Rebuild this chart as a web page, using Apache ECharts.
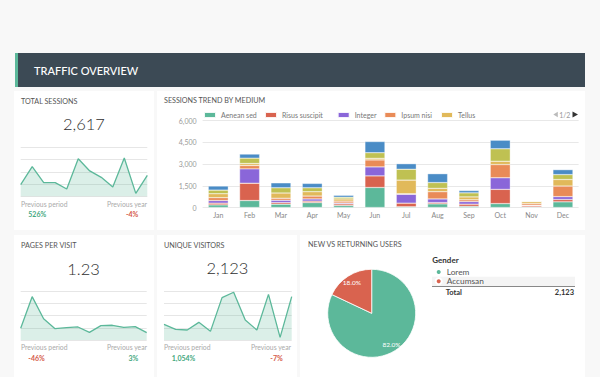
<!DOCTYPE html>
<html>
<head>
<meta charset="utf-8">
<script src="https://cdn.jsdelivr.net/npm/echarts@6/dist/echarts.min.js"></script>
<style>
html, body { margin: 0; padding: 0; background: #f8f8f8; }
#main { width: 600px; height: 377px; }
</style>
</head>
<body>
<div id="main"></div>
<script>
// data
var months = ['Jan', 'Feb', 'Mar', 'Apr', 'May', 'Jun', 'Jul', 'Aug', 'Sep', 'Oct', 'Nov', 'Dec'];
var mediumNames = ['Aenean sed', 'Risus suscipit', 'Integer', 'Ipsum nisi', 'Tellus', 'Vestibulum ante', 'Donec pretium'];
var aeneanSed     = [180, 480, 230, 340, 140, 1380, 50, 250, 80, 270, 40, 390];
var risusSuscipit = [120, 1195, 110, 100, 110, 800, 250, 90, 150, 980, 90, 160];
var integerVals   = [180, 990, 160, 150, 60, 620, 610, 250, 180, 800, 30, 200];
var ipsumNisi     = [200, 230, 140, 200, 130, 480, 40, 500, 120, 910, 110, 730];
var tellus        = [270, 140, 360, 300, 150, 110, 940, 230, 200, 230, 130, 450];
var vestibulum    = [250, 370, 360, 270, 120, 390, 750, 400, 280, 860, 40, 340];
var donecPretium  = [280, 275, 340, 300, 130, 770, 380, 610, 160, 590, 10, 340];
var yTicks = [0, 1500, 3000, 4500, 6000];
var legendPage = '1/2';

var sessionsSpark = [1425, 3630, 1680, 1680, 900, 4605, 3105, 2325, 1140, 4695, 360, 2565];
var pagesSpark    = [0.96, 3.56, 1.75, 0.93, 1.01, 1.07, 0.63, 1.18, 1.21, 1.04, 1.10, 0.60];
var visitorsSpark = [1935, 1320, 1230, 2175, 1065, 5220, 5880, 2460, 1230, 5625, 330, 5340];

var pieNames  = ['Lorem', 'Accumsan'];
var pieValues = [1741, 382];
var pieTotal  = '2,123';

var kpiSessions = '2,617', kpiPages = '1.23', kpiVisitors = '2,123';

// styles
var FONT = 'Lato, "Open Sans", sans-serif';
var GREEN = '#5cb89a';
var barColors = ['#5cb89a', '#d9634f', '#8a66d9', '#e98b57', '#e1b95a', '#bfc152', '#4a8cc6'];
var pieColors = ['#5cb89a', '#d9634f'];
var upColor = '#45a880', downColor = '#d55a48';
// left edge of each legend item shown on page 1
var legendLefts = [203, 264, 336.7, 383.3, 440];

var chart = echarts.init(document.getElementById('main'), null, { renderer: 'svg' });

function txt(x, y, text, font, fill, align) {
    return {
        type: 'text', z: 100,
        style: { x: x, y: y, text: text, font: font, fill: fill, align: align || 'left', verticalAlign: 'middle' }
    };
}
function panel(x, y, w, h) {
    return { type: 'rect', z: -10, shape: { x: x, y: y, width: w, height: h }, style: { fill: '#fff' } };
}

var titleFont = '7.2px ' + FONT;
var bigFont = '300 16.5px ' + FONT;
var smallFont = '6.8px ' + FONT;
var pctFont = 'bold 7px ' + FONT;

var graphics = [
    // header
    { type: 'rect', z: -10, shape: { x: 15, y: 53, width: 570, height: 34 }, style: { fill: '#3c4a55' } },
    { type: 'rect', z: -9, shape: { x: 15, y: 53, width: 3, height: 34 }, style: { fill: GREEN } },
    txt(34, 70.5, 'TRAFFIC OVERVIEW', '500 11px ' + FONT, '#fff'),
    // panels
    panel(14, 91, 140, 139),
    panel(157, 91, 428, 139),
    panel(14, 235, 140, 142),
    panel(157, 235, 140, 142),
    panel(300, 235, 285, 142),
    // titles
    txt(21, 101, 'TOTAL SESSIONS', titleFont, '#555'),
    txt(164, 100.7, 'SESSIONS TREND BY MEDIUM', titleFont, '#555'),
    txt(21, 245, 'PAGES PER VISIT', titleFont, '#555'),
    txt(164, 245, 'UNIQUE VISITORS', titleFont, '#555'),
    txt(308, 244.7, 'NEW VS RETURNING USERS', titleFont, '#555'),
    // legend page controller
    { type: 'polygon', z: 100, shape: { points: [[553.3, 114.5], [557.8, 111.8], [557.8, 117.2]] }, style: { fill: '#bbb' } },
    txt(564.8, 114.5, legendPage, '7px ' + FONT, '#999', 'center'),
    { type: 'polygon', z: 100, shape: { points: [[572.5, 111.5], [578, 114.5], [572.5, 117.5]] }, style: { fill: '#333' } },
    // KPIs
    txt(84, 124, kpiSessions, bigFont, '#2e2e2e', 'center'),
    txt(83.5, 269, kpiPages, bigFont, '#2e2e2e', 'center'),
    txt(227.5, 268, kpiVisitors, bigFont, '#2e2e2e', 'center'),
    // footers
    txt(21, 203.7, 'Previous period', smallFont, '#aaa'),
    txt(147, 203.7, 'Previous year', smallFont, '#aaa', 'right'),
    txt(28.3, 213.7, '526%', pctFont, upColor),
    txt(138.3, 213.7, '-4%', pctFont, downColor, 'right'),
    txt(21, 347.3, 'Previous period', smallFont, '#aaa'),
    txt(147, 347.3, 'Previous year', smallFont, '#aaa', 'right'),
    txt(28.3, 357.7, '-46%', pctFont, downColor),
    txt(138.3, 357.7, '3%', pctFont, upColor, 'right'),
    txt(164, 347.3, 'Previous period', smallFont, '#aaa'),
    txt(291, 347.3, 'Previous year', smallFont, '#aaa', 'right'),
    txt(171.7, 357.7, '1,054%', pctFont, upColor),
    txt(282.7, 357.7, '-7%', pctFont, downColor, 'right'),
    // pie legend table
    txt(432.3, 260, 'Gender', 'bold 8px ' + FONT, '#333'),
    { type: 'rect', z: -5, shape: { x: 432, y: 276.7, width: 143, height: 9.5 }, style: { fill: '#f4f4f4' } },
    { type: 'line', z: 50, shape: { x1: 432, y1: 286.5, x2: 575, y2: 286.5 }, style: { stroke: '#888', lineWidth: 1 } },
    txt(445.7, 292, 'Total', 'bold 7.5px ' + FONT, '#333'),
    txt(574, 292, pieTotal, 'bold 7.5px ' + FONT, '#333', 'right')
];

var barSeriesData = [aeneanSed, risusSuscipit, integerVals, ipsumNisi, tellus, vestibulum, donecPretium];
var barSeries = barSeriesData.map(function(d, i) {
    return {
        name: mediumNames[i], type: 'bar', stack: 'total', xAxisIndex: 0, yAxisIndex: 0,
        data: d, barWidth: 20,
        itemStyle: { color: barColors[i], borderColor: 'rgba(255,255,255,0.9)', borderWidth: 0.4 }
    };
});

// one legend per visible item so each sits where the reference puts it
var barLegends = legendLefts.map(function(left, i) {
    return {
        data: [mediumNames[i]], left: left, top: 111, padding: 0,
        icon: 'rect', itemWidth: 12, itemHeight: 6,
        textStyle: { fontSize: 7, color: '#777', fontFamily: FONT }
    };
});

function sparkAxes(idx, max, interval) {
    return {
        x: { type: 'category', gridIndex: idx, data: months, boundaryGap: false, show: false },
        y: {
            type: 'value', gridIndex: idx, min: 0, max: max, interval: interval,
            axisLabel: { show: false }, axisLine: { show: false }, axisTick: { show: false },
            splitLine: { lineStyle: { color: '#e6e6e6', width: 1 } }
        }
    };
}
function sparkSeries(idx, data) {
    return {
        type: 'line', xAxisIndex: idx, yAxisIndex: idx, data: data,
        showSymbol: false, silent: true,
        lineStyle: { color: GREEN, width: 1.3 },
        areaStyle: { color: 'rgba(92,184,154,0.32)' }
    };
}
var s1 = sparkAxes(1, 6000, 1500), s2 = sparkAxes(2, 4, 1), s3 = sparkAxes(3, 6000, 1500);

var option = {
    backgroundColor: '#f8f8f8',
    animation: false,
    textStyle: { fontFamily: FONT },
    graphic: { elements: graphics },
    grid: [
        { left: 202.6, top: 120.5, width: 376, height: 87 },
        { left: 20.7, top: 147.3, width: 126.6, height: 49 },
        { left: 20.7, top: 291.3, width: 126, height: 48.7 },
        { left: 164, top: 291.3, width: 127.7, height: 48.7 }
    ],
    legend: barLegends.concat([{
        orient: 'vertical', data: pieNames, left: 434.7, top: 268, padding: 0,
        icon: 'circle', itemWidth: 6, itemHeight: 6, itemGap: 1.3,
        textStyle: { fontSize: 8.3, lineHeight: 8, color: '#555', fontFamily: FONT }
    }]),
    xAxis: [{
        type: 'category', gridIndex: 0, data: months,
        axisLine: { show: false }, axisTick: { show: false },
        axisLabel: { fontSize: 7, color: '#888', margin: 4, fontFamily: FONT }
    }, s1.x, s2.x, s3.x],
    yAxis: [{
        type: 'value', gridIndex: 0, min: yTicks[0], max: yTicks[yTicks.length - 1], interval: yTicks[1] - yTicks[0],
        axisLine: { show: false }, axisTick: { show: false },
        axisLabel: {
            fontSize: 7, color: '#999', margin: 6, fontFamily: FONT,
            formatter: function(v) { return v.toLocaleString('en-US'); }
        },
        splitLine: { lineStyle: { color: '#e8e8e8' } }
    }, s1.y, s2.y, s3.y],
    series: barSeries.concat([
        sparkSeries(1, sessionsSpark),
        sparkSeries(2, pagesSpark),
        sparkSeries(3, visitorsSpark),
        {
            type: 'pie', center: [371.7, 313.3], radius: [0, 44], silent: true,
            data: pieNames.map(function(n, i) {
                return { name: n, value: pieValues[i], itemStyle: { color: pieColors[i] } };
            }),
            label: { show: false }, labelLine: { show: false },
            itemStyle: { borderColor: '#fff', borderWidth: 0.8 }
        },
        {
            // label carrier: places the percentages about 3/4 out from the centre
            type: 'pie', center: [371.7, 313.3], radius: [24, 44], silent: true,
            data: pieNames.map(function(n, i) { return { name: n, value: pieValues[i] }; }),
            itemStyle: { color: 'rgba(0,0,0,0)' },
            label: {
                show: true, position: 'inside', fontSize: 6.5, color: '#fff', fontFamily: FONT,
                formatter: function(p) { return p.percent.toFixed(1) + '%'; }
            },
            labelLine: { show: false }
        }
    ])
};

chart.setOption(option);
</script>
</body>
</html>
